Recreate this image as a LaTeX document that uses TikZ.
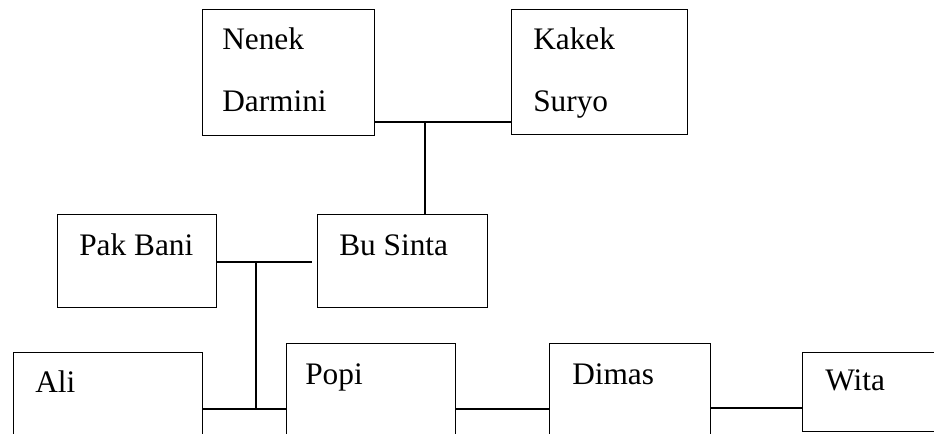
\documentclass[tikz,border=0pt]{standalone}
\usepackage{fontspec}
\setmainfont{Liberation Serif}
\begin{document}
\begin{tikzpicture}[x=0.75pt,y=-0.75pt,
  box/.style={draw,line width=0.9pt,inner sep=0pt,anchor=north west},
  lbl/.style={anchor=base west,inner sep=0pt,font=\fontsize{23.5}{28}\selectfont},
  conn/.style={line width=0.9pt}]
\useasboundingbox (0,0) rectangle (934,433);
\clip (0,0) rectangle (934,433);
% boxes
\node[box,minimum width=172*0.75pt,minimum height=126*0.75pt] (nenek) at (202,9) {};
\node[box,minimum width=176*0.75pt,minimum height=125*0.75pt] (kakek) at (511,9) {};
\node[box,minimum width=159*0.75pt,minimum height=93*0.75pt] (pakbani) at (57,214) {};
\node[box,minimum width=170*0.75pt,minimum height=93*0.75pt] (businta) at (317,214) {};
\node[box,minimum width=189*0.75pt,minimum height=120*0.75pt] (ali) at (13,352) {};
\node[box,minimum width=169*0.75pt,minimum height=130*0.75pt] (popi) at (286,343) {};
\node[box,minimum width=161*0.75pt,minimum height=130*0.75pt] (dimas) at (549,343) {};
\node[box,minimum width=160*0.75pt,minimum height=79*0.75pt] (wita) at (802,352) {};
% labels
\node[lbl] (t1) at (222,49) {Nenek};
\node[lbl] (t2) at (222,111) {Darmini};
\node[lbl] (t3) at (533,49) {Kakek};
\node[lbl] (t4) at (533,111) {Suryo};
\node[lbl] (t5) at (79,255) {Pak Bani};
\node[lbl] (t6) at (339,255) {Bu Sinta};
\node[lbl] (t7) at (35,392) {Ali};
\node[lbl] (t8) at (305,384) {Popi};
\node[lbl] (t9) at (572,384) {Dimas};
\node[lbl] (t10) at (825,390) {Wita};
% junctions
\coordinate (j1) at (425,122);
\coordinate (j2) at (256,262);
\coordinate (j2e) at (312,262);
\coordinate (j3) at (256,409);
\coordinate (j4) at (500,409);
\coordinate (j5) at (750,408);
% connectors
\draw[conn] (nenek.east |- j1) -- (kakek.west |- j1);
\draw[conn] (j1) -- (j1 |- businta.north);
\draw[conn] (pakbani.east |- j2) -- (j2e);
\draw[conn] (j2) -- (j3);
\draw[conn] (ali.east |- j3) -- (popi.west |- j3);
\draw[conn] (popi.east |- j4) -- (dimas.west |- j4);
\draw[conn] (dimas.east |- j5) -- (wita.west |- j5);
\end{tikzpicture}
\end{document}
